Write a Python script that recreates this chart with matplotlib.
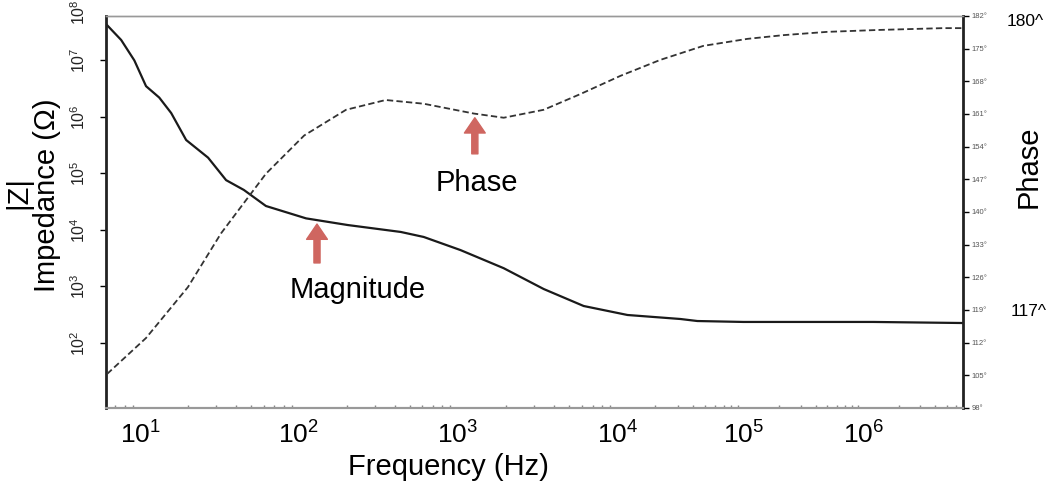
import numpy as np
import matplotlib
matplotlib.use('Agg')
from matplotlib import pyplot as plt
from matplotlib import ticker

plt.rcParams['font.family'] = ['Liberation Sans', 'DejaVu Sans']
plt.rcParams['mathtext.fontset'] = 'custom'
plt.rcParams['mathtext.rm'] = 'Liberation Sans'

# impedance magnitude |Z| (ohm) vs frequency (Hz)
freq_mag = [6.2, 7.6, 9.2, 10.9, 13.2, 15.7, 19.5, 26.8, 34.8, 45, 62, 111, 203,
            438, 611, 1040, 1940, 3450, 6140, 12000, 31600, 43100, 1.0e5, 1.21e6, 6.7e6]
z_mag = [4.2e7, 2.3e7, 1.0e7, 3.5e6, 2.2e6, 1.17e6, 3.9e5, 1.9e5, 7.6e4, 5.1e4, 2.65e4,
         1.6e4, 1.22e4, 9.2e3, 7.5e3, 4.4e3, 2.1e3, 900, 450, 312, 265, 244, 235, 235, 225]

# phase (deg) vs frequency (Hz)
freq_phase = [6.2, 10.9, 20.0, 32.3, 47.8, 62, 108, 198, 352, 611, 1260, 1940, 3450,
              5880, 10600, 21900, 48100, 1.08e5, 2.16e5, 5.0e5, 1.31e6, 4.64e6, 6.7e6]
phase_deg = [105.3, 113.0, 123.9, 135.4, 143.1, 148.2, 156.4, 161.9, 164.0, 163.2, 161.1,
             160.2, 161.9, 165.3, 169.2, 172.6, 175.6, 177.1, 177.9, 178.6, 179.0, 179.4, 179.4]

x_ticks = [1e1, 1e2, 1e3, 1e4, 1e5, 1e6]
x_tick_labels = ['$\\mathregular{10^{1}}$', '$\\mathregular{10^{2}}$', '$\\mathregular{10^{3}}$',
                 '$\\mathregular{10^{4}}$', '$\\mathregular{10^{5}}$', '$\\mathregular{10^{6}}$']
y_ticks = [1e2, 1e3, 1e4, 1e5, 1e6, 1e7]
y_tick_labels = ['$\\mathregular{10^{2}}$', '$\\mathregular{10^{3}}$', '$\\mathregular{10^{4}}$',
                 '$\\mathregular{10^{5}}$', '$\\mathregular{10^{6}}$', '$\\mathregular{10^{7}}$']
phase_ticks = [98, 105, 112, 119, 126, 133, 140, 147, 154, 161, 168, 175, 182]

# the original frequency axis is not evenly spaced per decade,
# so use a piecewise log scale that puts each decade where the figure has it
decade = [0, 1, 2, 3, 4, 5, 6, 7]
decade_pos = [-20, 139, 298, 457, 617, 743, 863, 983]


def fwd(f):
    lf = np.log10(np.clip(np.asarray(f, dtype=float), 1e-12, None))
    return np.interp(lf, decade, decade_pos)


def inv(p):
    return 10 ** np.interp(p, decade_pos, decade)


W, H = 1050, 487
fig = plt.figure(figsize=(W / 100, H / 100), dpi=100)
ax = fig.add_axes([106 / W, 1 - 408 / H, (963 - 106) / W, (408 - 16) / H])
ax.set_xscale('function', functions=(fwd, inv))
ax.set_yscale('log')

ax.plot(freq_mag, z_mag, color='#1a1a1a', lw=1.6)
ax.set_xlim(6.1, 6.8e6)
ax.set_ylim(10 ** 0.848, 10 ** 7.786)

ax2 = ax.twinx()
ax2.plot(freq_phase, phase_deg, color='#333333', lw=1.3, dashes=(3.5, 1.8))
ax2.set_ylim(98, 182)

# x axis
ax.xaxis.set_major_locator(ticker.FixedLocator(x_ticks))
ax.xaxis.set_major_formatter(ticker.FixedFormatter(x_tick_labels))
minors = [k * 10.0 ** n for n in range(0, 7) for k in range(2, 10)]
ax.xaxis.set_minor_locator(ticker.FixedLocator(minors))
ax.xaxis.set_minor_formatter(ticker.NullFormatter())
ax.tick_params(axis='x', which='major', length=0, pad=10, labelsize=19)
ax.tick_params(axis='x', which='minor', direction='in', length=2.5, width=1, color='#888888')

# left axis
ax.yaxis.set_major_locator(ticker.FixedLocator(y_ticks))
ax.yaxis.set_major_formatter(ticker.FixedFormatter(y_tick_labels))
ax.yaxis.set_minor_locator(ticker.NullLocator())
ax.tick_params(axis='y', which='major', direction='out', length=4, width=1,
               labelsize=11.5, labelcolor='#222222', pad=9, labelrotation=90)
for lab in ax.get_yticklabels():
    lab.set_va('center')
ax.annotate('$\\mathregular{10^{8}}$', xy=(0, 1e8), xycoords=('axes fraction', 'data'),
            xytext=(-13, -6), textcoords='offset points', rotation=90, ha='right',
            va='center', fontsize=11.5, color='#222222', annotation_clip=False)

# right axis
ax2.set_yticks(phase_ticks)
ax2.set_yticklabels(['%d°' % v for v in phase_ticks])
ax2.tick_params(axis='y', direction='out', length=4, width=1, labelsize=5.5,
                labelcolor='#555555', pad=2)

for a in (ax, ax2):
    a.spines['top'].set_color('#999999')
    a.spines['top'].set_linewidth(1)
    a.spines['bottom'].set_color('#999999')
    a.spines['bottom'].set_linewidth(1.5)
ax.spines['left'].set_linewidth(2)
ax.spines['left'].set_color('#222222')
ax.spines['right'].set_visible(False)
ax2.spines['left'].set_visible(False)
ax2.spines['right'].set_linewidth(2)
ax2.spines['right'].set_color('#222222')

# axis titles
fig.text(18 / W, 1 - 192 / H, '|Z|', rotation=90, ha='center', va='center', fontsize=21)
fig.text(47 / W, 1 - 195 / H, 'Impedance (Ω)', rotation=90, ha='center', va='center', fontsize=21)
fig.text(448 / W, 1 - 467 / H, 'Frequency (Hz)', ha='center', va='center', fontsize=21)
fig.text(1029 / W, 1 - 167 / H, 'Phase', rotation=90, ha='center', va='center', fontsize=21)
fig.text(1007 / W, 1 - 22 / H, '180^', ha='left', va='center', fontsize=12.5)
fig.text(1011 / W, 1 - 311 / H, '117^', ha='left', va='center', fontsize=12.5)

# arrows and labels
arrow = dict(arrowstyle='simple,head_width=0.75,head_length=0.55,tail_width=0.22',
             color='#cf6660', shrinkA=0, shrinkB=0, mutation_scale=20)
ax.annotate('', xy=(130, 1.27e4), xytext=(0, -28), textcoords='offset points', arrowprops=arrow)
ax.annotate('Magnitude', xy=(130, 1.27e4), xytext=(29, -47.5), textcoords='offset points',
            ha='center', va='center', fontsize=21)
ax2.annotate('', xy=(1280, 160.2), xytext=(0, -26), textcoords='offset points', arrowprops=arrow)
ax2.annotate('Phase', xy=(1280, 160.2), xytext=(1.5, -47), textcoords='offset points',
             ha='center', va='center', fontsize=21)

fig.savefig('out.png', dpi=100)
